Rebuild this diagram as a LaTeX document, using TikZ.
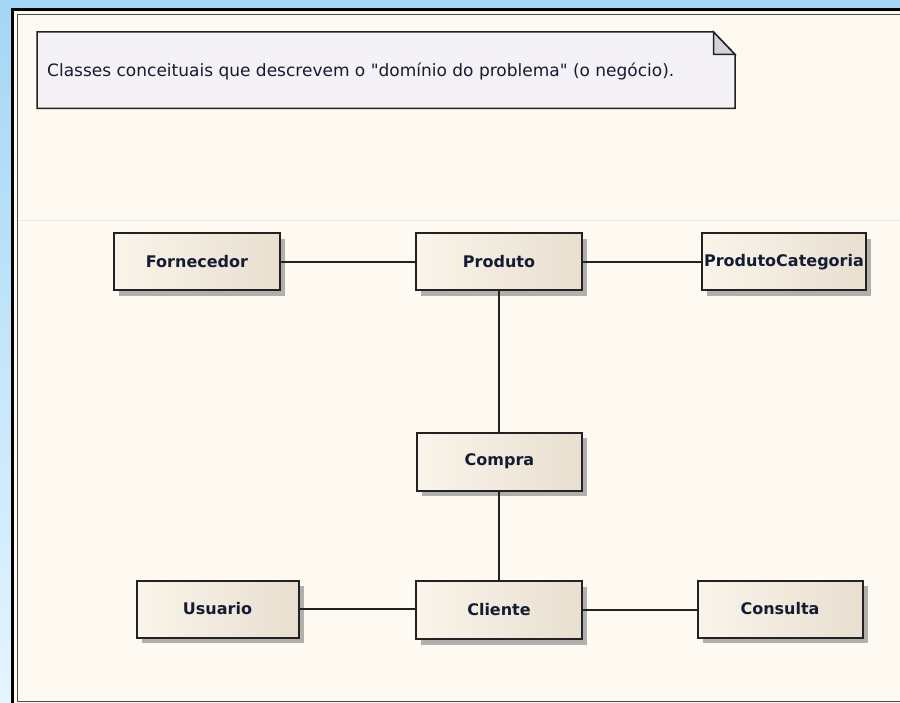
\documentclass[tikz,border=0pt]{standalone}
\usepackage{fontspec}
\setmainfont{DejaVu Sans}[Ligatures=TeXOff]
\usetikzlibrary{shadows}
\definecolor{bgtop}{HTML}{A4D6F5}
\definecolor{bgbot}{HTML}{E4F5FF}
\definecolor{panel}{HTML}{FEFAF1}
\definecolor{notefill}{HTML}{F4F1F7}
\definecolor{foldfill}{HTML}{D6D2DA}
\definecolor{boxleft}{HTML}{FAF4EA}
\definecolor{boxright}{HTML}{E8DFD0}
\definecolor{txt}{HTML}{141C34}
\definecolor{edgec}{HTML}{222222}
\definecolor{faint}{HTML}{DDEFF8}
\begin{document}
\begin{tikzpicture}[x=1pt,y=-1pt,
  classbox/.style={draw=edgec, line width=2pt, left color=boxleft, right color=boxright,
    minimum width=165pt, minimum height=57pt, inner sep=0pt,
    font=\bfseries\fontsize{16}{19}\selectfont, text=txt,
    drop shadow={shadow xshift=5pt, shadow yshift=-5.5pt, fill=black!50, opacity=0.6}},
  assoc/.style={draw=edgec, line width=1.6pt},
  notetext/.style={anchor=west, inner sep=0pt, text=txt, font=\fontsize{17}{20}\selectfont}]
\useasboundingbox (0,0) rectangle (900,703);
\shade[top color=bgtop, bottom color=bgbot] (0,0) rectangle (900,703);
\fill[panel] (12,9) rectangle (915,720);
\draw[black, line width=3pt] (12.5,9.5) rectangle (915,720);
\draw[black!70, line width=1pt] (17,14.5) rectangle (907,701.5);
\draw[faint, line width=1pt] (18,220.5) -- (900,220.5);
% note
\draw[fill=notefill, draw=edgec, line width=1.5pt] (37,32) -- (713.5,32) -- (735,54.5) -- (735,108.5) -- (37,108.5) -- cycle;
\draw[fill=foldfill, draw=edgec, line width=1.5pt, line join=miter] (713.5,32) -- (713.5,54.5) -- (735,54.5) -- cycle;
\node[notetext] (note) at (47,71.5) {Classes conceituais que descrevem o "domínio do problema" (o negócio).};
% classes
\node[classbox, minimum width=166pt] (Fornecedor) at (197,262) {Fornecedor};
\node[classbox, minimum width=166pt] (Produto) at (499,262) {Produto};
\node[classbox, minimum width=164pt] (ProdutoCategoria) at (784,262) {ProdutoCategoria};
\node[classbox, minimum height=58pt] (Compra) at (499.5,461.5) {Compra};
\node[classbox, minimum width=162pt] (Usuario) at (217.5,609) {Usuario};
\node[classbox, minimum width=166pt, minimum height=58pt] (Cliente) at (499,610) {Cliente};
\node[classbox] (Consulta) at (780,609) {Consulta};
% associations
\draw[assoc] (Fornecedor.east) -- (Fornecedor.east -| Produto.west);
\draw[assoc] (Produto.east) -- (Produto.east -| ProdutoCategoria.west);
\draw[assoc] (Produto.south) -- (Produto.south |- Compra.north);
\draw[assoc] (Compra.south -| Produto.south) -- (Produto.south |- Cliente.north);
\draw[assoc] (Usuario.east) -- (Usuario.east -| Cliente.west);
\draw[assoc] (Cliente.east) -- (Cliente.east -| Consulta.west);
\end{tikzpicture}
\end{document}
